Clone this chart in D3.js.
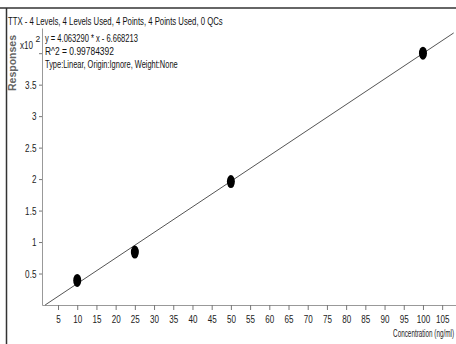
<!DOCTYPE html>
<html><head><meta charset="utf-8">
<script src="https://cdn.jsdelivr.net/npm/d3@7"></script>
<style>
body{margin:0;background:#fff;}
text{font-family:"Liberation Sans Narrow","Arial Narrow","Liberation Sans",Arial,sans-serif;}
</style></head>
<body><svg id="c" width="456" height="344"></svg>
<script>
const concentrations = [10, 25, 50, 100];
const responses = [39, 84, 196, 400];
const slope = 4.063290, intercept = -6.668213;
const xTicks = [5,10,15,20,25,30,35,40,45,50,55,60,65,70,75,80,85,90,95,100,105];
const yTicks = [50,100,150,200,250,300,350,400];
const yTickLabels = ["0.5","1","1.5","2","2.5","3","3.5",""];
const title = "TTX - 4 Levels, 4 Levels Used, 4 Points, 4 Points Used, 0 QCs";
const infoLines = ["y = 4.063290 * x  - 6.668213", "R^2 = 0.99784392", "Type:Linear, Origin:Ignore, Weight:None"];
const infoWidths = [93, 69, 133];

const svg = d3.select("#c");
const x = d3.scaleLinear().domain([0.83, 108.6]).range([42, 456]);
const y = d3.scaleLinear().domain([0, 440]).range([305, 28]);

function narrow(s){ // approximate condensed width
  let w = 0;
  for (const ch of s) w += (ch === ".") ? 2.3 : 4.5;
  return w;
}
// condensed text: scale horizontally so the text gets the target width
function ctext(parent, s, px, py, size, width, anchor, opts={}){
  const g = parent.append("g");
  const t = g.append("text").attr("font-size",size).attr("fill",opts.fill||"#111")
    .attr("text-anchor",anchor||"start").text(s);
  if (opts.weight) t.attr("font-weight",opts.weight);
  const nat = t.node().getComputedTextLength();
  const sx = Math.min(1, width/nat);
  g.attr("transform",`translate(${px},${py})${opts.rotate?` rotate(${opts.rotate})`:""} scale(${sx},1)`);
  return g;
}

// frame
svg.append("line").attr("x1",0).attr("x2",456).attr("y1",8).attr("y2",8).attr("stroke","#333").attr("stroke-width",1.5);
svg.append("line").attr("x1",6.5).attr("x2",6.5).attr("y1",8).attr("y2",344).attr("stroke","#333").attr("stroke-width",1.5);

ctext(svg, title, 8, 24.5, 11, 215, "start");

// axes
const xAxis = d3.axisBottom(x).tickValues(xTicks).tickSize(5).tickSizeOuter(0).tickFormat(d3.format("d"));
const gx = svg.append("g").attr("transform",`translate(0,${y(0)})`).call(xAxis);
const yAxis = d3.axisLeft(y).tickValues(yTicks).tickSize(3).tickSizeOuter(0).tickFormat((d,i)=>yTickLabels[i]);
const gy = svg.append("g").attr("transform",`translate(${x.range()[0]},0)`).call(yAxis);
[gx,gy].forEach(g=>{
  g.select(".domain").attr("stroke","#999");
  g.selectAll(".tick line").attr("stroke","#777");
  g.selectAll(".tick text").attr("fill","#222").attr("font-size",11)
   .attr("font-family",'"Liberation Sans Narrow","Arial Narrow","Liberation Sans",Arial,sans-serif');
});
gx.selectAll(".tick text").attr("dy","0.9em");
gy.selectAll(".tick text").attr("dx","0.05em");
// condense tick labels horizontally around their anchor
gx.selectAll(".tick text").each(function(){
  const el = d3.select(this), s = el.text();
  const nat = this.getComputedTextLength();
  const sx = narrow(s)/nat;
  const yy = +el.attr("y");
  el.attr("y",null).attr("transform",`translate(0,${yy}) scale(${sx},1)`);
});
gy.selectAll(".tick text").each(function(){
  const el = d3.select(this), s = el.text();
  if (!s) { el.remove(); return; }
  const nat = this.getComputedTextLength();
  const sx = narrow(s)/nat;
  const xx = +el.attr("x");
  el.attr("x",null).attr("transform",`translate(${xx},0) scale(${sx},1)`);
});

// regression line
const xStart = -intercept/slope, xEnd = 108;
svg.append("line")
  .attr("x1",x(xStart)).attr("y1",y(slope*xStart+intercept))
  .attr("x2",x(xEnd)).attr("y2",y(slope*xEnd+intercept))
  .attr("stroke","#555").attr("stroke-width",1);

// points
svg.selectAll("ellipse.pt").data(concentrations).join("ellipse").attr("class","pt")
  .attr("cx",(d)=>x(d)).attr("cy",(d,i)=>y(responses[i])).attr("rx",4).attr("ry",6.5).attr("fill","#000");

// info text
infoLines.forEach((t,i)=>{ ctext(svg, t, 45, 41.5+i*13, 11, infoWidths[i], "start"); });

// y units
ctext(svg, "x10", 20, 49, 11, 13, "start", {fill:"#222"});
svg.append("text").attr("x",35.5).attr("y",42).attr("font-size",8.5).attr("fill","#222").text("2");
ctext(svg, "Responses", 15.5, 63, 10.5, 68, "middle", {fill:"#666", weight:"bold", rotate:-90});

ctext(svg, "Concentration (ng/ml)", 454, 337, 11, 61, "end", {fill:"#222"});
</script></body></html>
